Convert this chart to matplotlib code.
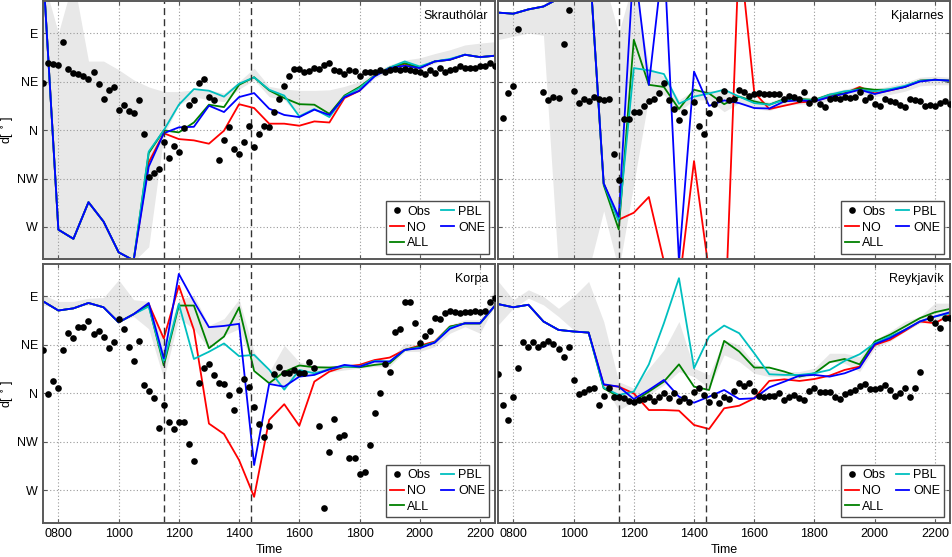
import numpy as np
import matplotlib
matplotlib.use("Agg")
import matplotlib.pyplot as plt

plt.rcParams['font.family'] = ['Liberation Sans', 'DejaVu Sans']
plt.rcParams['mathtext.fontset'] = 'dejavusans'

nan = np.nan

# model output every 30 min, observations every 10 min (07:30 - 22:30)
t_mod = np.arange(7.5, 22.75, 0.5)
t_obs = 7.5 + np.arange(91) / 6.0

# --- Skrauthólar
sk_no = [505, 267.5, 259, 293, 275, 246.5, 239,
         330, 357, 351.6, 350.4, 347.3, 359.4, 384, 380.4,
         365.9, 365.9, 364, 368, 367, 389.7, 396.5, 411.3,
         417.5, 421.5, 417.5, 423.7, 425.3, 429.9, 427.7, 429]
sk_all = [505, 267.5, 259, 293, 275, 246.5, 239,
          338.6, 359.7, 357.8, 367, 383.5, 381.3, 402, 409,
          396.8, 389.7, 384, 383.5, 375, 392, 400, 410.4,
          418, 422, 418, 423.7, 425.3, 429.9, 427.7, 429]
sk_pbl = [505, 267.5, 259, 293, 275, 246.5, 239,
          340, 359.7, 383.5, 398, 396.5, 391, 403, 408.9,
          397.4, 392, 372.7, 379.5, 372, 391, 399, 410.4,
          418, 423.7, 419, 423.7, 426, 430, 427.7, 429]
sk_one = [505, 267.5, 259, 293, 275, 246.5, 239,
          326, 357, 362.5, 363, 382.6, 376.7, 390.6, 394.3,
          379.8, 374, 372, 378.9, 374, 390.6, 396.5, 409.8,
          417.5, 419.7, 417.5, 423.7, 425.3, 429.9, 427.7, 429]
sk_hi = [500, 450, 500, 424, 424, 416, 406.6,
         400, 395.7, 395.7, 397.3, 397.3, 394.2, 405, 417.4,
         400.5, 398, 396.8, 396.8, 397.3, 400.5, 405, 414,
         420.6, 425, 427, 431, 434.5, 439, 440.7, 442]
sk_lo = [238, 238, 238, 238, 238, 238, 238,
         251.6, 355, 383.3, 391, 388, 386.4, 397.9, 406.6,
         391, 388, 372.7, 379, 374, 391, 396, 408,
         414, 417.5, 416, 422, 425, 430, 427.7, 430]
sk_obs = [404, 422, 421, 420, 442, 417, 413, 412, 410, 407,
          414, 403, 389, 397, 400, 379, 383, 378, 376, 388,
          356, 316, 320, 324, 349, 334, 345, 340, 362, 383,
          388, 404, 407, 391, 388, 332, 351, 363, 342, 338,
          349, 364, 344, 356, 364, 363, 377, 389, 401, 410,
          417, 417, 414, 415, 418, 417, 420, 422, 416, 415,
          412, 416, 415, 410, 414, 414, 414, 416, 414, 416,
          417, 416, 417, 416, 415, 414, 412, 416, 413, 418,
          414, 416, 417, 419, 418, 418, 418, 419, 419, 422,
          419]

# --- Kjalarnes
kj_no = [469, 468, 472, 474.7, 482, 510, 528,
         310.5, 276.8, 283.2, 297.8, 238, 215, 331.2, 228,
         160, 530, 395, 379.5, 382.6, 385.7, 386.6, 391,
         394, 400, 394, 396.8, 400, 405.8, 406.7, 405.8]
kj_all = [469, 468, 472, 474.7, 482, 510, 528,
          309, 267.7, 443.8, 402, 400, 379.5, 397.4, 394,
          384, 391, 386.6, 383.5, 388.8, 388.8, 388, 392.8,
          394, 399, 397.4, 397.4, 400, 405.8, 406.7, 405.8]
kj_pbl = [469, 468, 472, 474.7, 482, 510, 528,
          310.5, 275, 417.5, 415.4, 412, 384.4, 391, 394,
          397.4, 391, 385, 383.5, 388, 388, 387.5, 392.8,
          396, 397.4, 396, 398, 401, 405.8, 406.7, 405.8]
kj_one = [469, 468, 472, 474.7, 482, 510, 528,
          310.5, 279.5, 518, 401.9, 525, 238, 414.3, 382.4,
          387.5, 385, 380.4, 380, 386.6, 387.5, 386.6, 390.6,
          393.7, 397.4, 393.4, 396.8, 400, 405, 406.7, 405.8]
kj_hi = [469, 468, 473, 475, 500, 500, 500,
         500, 450, 500, 418.7, 409.6, 388, 397, 397,
         395.6, 393, 389, 386, 391, 391, 390, 395,
         398, 401, 398, 401, 404, 409, 410, 409]
kj_lo = [444, 447, 450, 448, 230, 230, 230,
         285, 230, 310, 391, 392.8, 377, 388, 388,
         377, 385, 380, 378, 383, 384, 384, 388,
         390, 393, 391, 393, 396, 401, 402, 402]
kj_obs = [nan, 371, 394, 401, 454, nan, nan, nan, nan, 395,
          388, 391, 390, 440, 471, 396.5, 385, 389, 387, 391,
          389, 388, 389, 338, 314, 370, 370, 377, 377, 382,
          386.6, 389, 394, 404, 387.5, 379.5, 369, 377, nan, 386,
          364, 356, 376, 384, 389, 396.5, 388, 389, 397.4, 395,
          392, 393, 394, 393, 393, 393, 393, 389, 392, 391,
          389, 395, 385, 389, 384, 381, 389, 390, 389, 391,
          390, 391, 395, 388, 391, 384, 382, 389, 387, 386,
          383.5, 381, 389, 388, 386.6, 382, 383.5, 382, 385, 387,
          384]

# --- Korpa
ko_no = [445.4, 437, 439, 444, 440, 426, 433.6,
         443, 411, 460, 419, 332, 322.3, 298.1, 264,
         335.5, 350, 330, 371, 380.3, 384.9, 386.5, 391,
         393.3, 400.4, 404.4, 408.2, 422, 425, 425, 441.6]
ko_all = [445.4, 437, 439, 444, 440, 426, 433.6,
          442, 386, 441.6, 441.6, 402, 412.8, 439.8, 380.9,
          369.5, 380, 386, 384.3, 384, 385, 384.3, 386.5,
          388, 400.4, 403.5, 407.5, 422, 425, 425, 441.6]
ko_pbl = [445.4, 437, 439, 444, 440, 426, 433.6,
          440.7, 389, 443.2, 392, 398.7, 406.4, 394.6, 395.8,
          382, 363.5, 381.8, 378.7, 382.4, 385, 385, 390.2,
          389.6, 400.4, 402.6, 407.5, 421, 425, 425, 441.6]
ko_one = [445.4, 437, 439, 444, 440, 426, 433.6,
          444, 392.7, 471, 445.4, 421.5, 422.7, 424.6, 293.5,
          368.8, 366.3, 375.6, 377.2, 382.4, 386.5, 384.9, 389.6,
          389.6, 400.4, 402, 407.2, 420, 425.2, 425.2, 441.6]
ko_hi = [451.5, 445.4, 445.4, 448.4, 449, 465.5, 447,
         445.5, 407.7, 447, 451, 423.2, 429.4, 447.4, 398.4,
         379.8, 404.6, 389.1, 386, 386, 386.5, 388, 391,
         391, 406.6, 405, 409.7, 423.7, 428.3, 428.3, 457.7]
ko_lo = [442, 439, 440.7, 442, 442, 426.8, 431.4,
         420, 373.6, 430, 420, 401.5, 413.9, 420, 382.9,
         370.5, 367.4, 376.7, 379.8, 379.8, 381.8, 383.4, 384.9,
         384.9, 398.9, 398.9, 403.5, 415.9, 422, 415.9, 442]
ko_obs = [400.4, 359.2, 371.9, 365.4, 400.4, 416.5, 411.9, 421.5, 421.5, 427.4,
          415.3, 418.4, 412.8, 402, 408.2, 428.9, 420, 403.5, 390.5, 408.8,
          367.9, 362.6, 355.5, 327.6, 349.3, 333.8, 327, 333.1, 333.8, 312.7,
          297.5, 369.4, 383.4, 387.4, 377.2, 369.4, 368.5, 358.5, 344.6, 363.2,
          373.4, 365.7, 347.7, 331.3, 319.2, 329.7, 377.8, 384.9, 378.7, 378.7,
          381.8, 378.7, 378.7, 389.6, 383.4, 330, 254, 305.2, 336.2, 319.8,
          321.4, 299.7, 299.7, 285.1, 287.3, 312.1, 341.5, 360.1, 387.1, 379.6,
          416.8, 419.9, 444.7, 444.7, 425.2, 406.6, 413.7, 418.4, 429.9, 428.9,
          435.1, 437, 436, 434.5, 436, 436, 437, 436, 436.7, 444.7,
          448.5]

# --- Reykjavík
re_no = [442.9, 440, 442.3, 426.8, 419, 417.5, 416.5,
         367.9, 366.3, 360, 344.6, 344.6, 344, 330.7, 327,
         346.2, 348.6, 355.5, 371.6, 373.1, 371.6, 373.4, 376.5,
         381.8, 384.9, 405, 409.7, 418, 426.8, 425.2, 433]
re_all = [442.9, 440, 442.3, 426.8, 419, 417.5, 416.5,
          364.8, 357, 352.4, 361.7, 371, 387, 366.3, 363.2,
          408.8, 398.9, 384, 384, 380.3, 375.6, 378.7, 389,
          392, 387, 408.2, 414.4, 422.1, 429.9, 435.4, 438.5]
re_pbl = [442.9, 440, 442.3, 426.8, 419, 417.5, 416.5,
          365.4, 358.6, 361.7, 387, 425.2, 467, 383.4, 412.8,
          423, 415.9, 397.3, 377.8, 377.2, 377.2, 378.7, 381.8,
          390.2, 396.4, 406.6, 412.8, 419, 426.8, 431.4, 434.5]
re_one = [442.9, 440, 442.3, 426.8, 419, 417.5, 416.5,
          368.5, 366.3, 354.8, 363.2, 372.5, 357, 351.4, 357,
          363.2, 354.8, 355.5, 365.7, 371, 376.5, 377.2, 375.6,
          378.7, 384, 405.7, 411.3, 419, 426.8, 431.4, 435.4]
re_hi = [464, 446.9, 456.2, 450, 439, 450, 464,
         426.8, 371, 364.8, 383.4, 400.4, 426.8, 383.4, 377.2,
         409.7, 405, 388, 381.8, 380.3, 380.3, 383.4, 397.3,
         397.3, 394.2, 409.7, 417.5, 426.8, 431.4, 443.8, 443.8]
re_lo = [423.7, 439.2, 448.5, 442.2, 431.4, 419, 417.5,
         367.9, 344.6, 352.4, 358.6, 367.9, 380.3, 375.6, 364.8,
         395.8, 389.6, 378.7, 375.6, 375.6, 374, 377.2, 389.6,
         388, 380.3, 402, 408.2, 417.5, 425.2, 426.8, 429.9]
re_obs = [377.8, 349.3, 335.3, 357, 384, 407.5, 403.5, 408.2, 403.5, 405.7,
          408.8, 405.7, 401.3, 394.2, 402.9, 372.5, 359.2, 361.7, 363.8, 364.8,
          349.3, 357.9, 364.8, 357, 357, 355.5, 353.3, 352.4, 353.9, 354.8,
          357, 353.3, 357, 360.7, 355.5, 360.7, 353.3, 355.5, 352.4, 361,
          364.8, 358.6, 352.4, 358.6, 350.8, 357, 354.8, 362.6, 369.4, 367.2,
          370, 362.6, 357.6, 357, 357.9, 357.9, 360.1, 353.9, 357, 358.6,
          355.5, 353.9, 362.3, 365.4, 361.7, 361.7, 361, 357, 354.8, 359.2,
          361.7, 363.2, 367.2, 368.5, 364.1, 363.8, 365.4, 367.9, 363.2, 357.9,
          360.1, 365.4, 357, 365.4, 380.3, nan, 430.5, 425.2, 421.2, 429.9,
          430.5]

stations = ['Skrauthólar', 'Kjalarnes', 'Korpa', 'Reykjavík']
panels = [
    (sk_obs, sk_no, sk_all, sk_pbl, sk_one, sk_lo, sk_hi),
    (kj_obs, kj_no, kj_all, kj_pbl, kj_one, kj_lo, kj_hi),
    (ko_obs, ko_no, ko_all, ko_pbl, ko_one, ko_lo, ko_hi),
    (re_obs, re_no, re_all, re_pbl, re_one, re_lo, re_hi),
]

dir_ticks = [270, 315, 360, 405, 450]
dir_labels = ['W', 'NW', 'N', 'NE', 'E']
time_ticks = [8, 10, 12, 14, 16, 18, 20, 22]
time_labels = ['0800', '1000', '1200', '1400', '1600', '1800', '2000', '2200']
t_marks = [11.5, 14.4]

fig = plt.figure(figsize=(9.52, 5.57), dpi=100)
w = 0.4745
h = 0.4641
pos = [(0.0455, 0.5345), (0.5234, 0.5345), (0.0455, 0.0616), (0.5234, 0.0616)]

for i, (name, data) in enumerate(zip(stations, panels)):
    obs, d_no, d_all, d_pbl, d_one, lo, hi = data
    ax = fig.add_axes([pos[i][0], pos[i][1], w, h])
    ax.fill_between(t_mod, lo, hi, color='#e8e8e8', lw=0, zorder=1)
    ax.plot(t_mod, d_no, color='#ff0000', lw=1.3, label='NO', zorder=2)
    ax.plot(t_mod, d_all, color='#008000', lw=1.3, label='ALL', zorder=2)
    ax.plot(t_mod, d_pbl, color='#00bfbf', lw=1.3, label='PBL', zorder=2)
    ax.plot(t_mod, d_one, color='#0000ff', lw=1.3, label='ONE', zorder=2)
    ax.plot(t_obs, obs, 'o', color='k', ms=4.8, mew=0, label='Obs', zorder=3)
    for tm in t_marks:
        ax.axvline(tm, color='#333333', lw=1.0, ls=(0, (5, 3)), zorder=2.5)

    ax.set_xlim(7.5, 22.5)
    ax.set_ylim(240, 480)
    ax.set_xticks(time_ticks)
    ax.set_yticks(dir_ticks)
    ax.grid(True, ls=(0, (1, 2)), color='0.6', lw=0.8)
    ax.tick_params(direction='in', length=3, top=True, right=True,
                   color='0.35', labelsize=9, pad=4)
    for sp in ax.spines.values():
        sp.set_color('0.35')
        sp.set_linewidth(1.4)

    if i % 2 == 0:
        ax.set_yticklabels(dir_labels)
        ax.set_ylabel(r'd[$\,^\circ\,$]', fontsize=9)
        ax.yaxis.set_label_coords(-0.06, 0.5)
    else:
        ax.set_yticklabels([])
    if i >= 2:
        ax.set_xticklabels(time_labels)
        ax.set_xlabel('Time', fontsize=9, labelpad=3)
    else:
        ax.set_xticklabels([])

    ax.text(0.985, 0.965, name, transform=ax.transAxes, ha='right', va='top',
            fontsize=9)

    hd, lb = ax.get_legend_handles_labels()
    order = [4, 0, 1, 2, 3]
    leg = ax.legend([hd[k] for k in order], [lb[k] for k in order],
                    loc='lower right', ncol=2, fontsize=9, numpoints=1,
                    handlelength=1.1, handletextpad=0.3, columnspacing=0.8,
                    labelspacing=0.3, borderpad=0.35, borderaxespad=0.45,
                    fancybox=False, framealpha=1)
    leg.get_frame().set_edgecolor('0.3')
    leg.get_frame().set_linewidth(1.0)

fig.savefig('out.png', dpi=100)
